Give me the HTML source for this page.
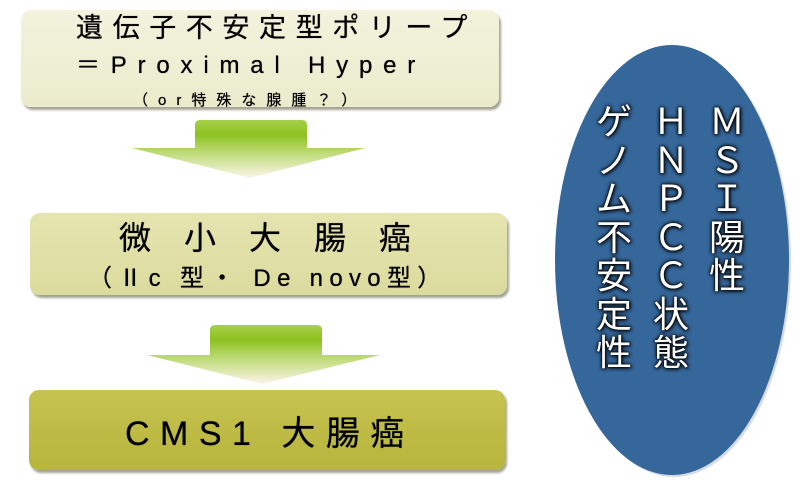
<!DOCTYPE html>
<html><head><meta charset="utf-8"><style>
body{margin:0;width:800px;height:500px;background:#fff;position:relative;overflow:hidden;font-family:"Liberation Sans","Noto Sans CJK JP",sans-serif;}
.box{position:absolute;border-radius:10px;box-shadow:2px 3px 2px rgba(90,90,60,.55);}
.t{position:absolute;white-space:nowrap;color:#000;line-height:1;text-shadow:0 0 0.6px #000;}
.col{position:absolute;top:103px;width:44px;text-align:center;color:#fff;font-size:36px;line-height:38.5px;font-weight:normal;text-shadow:0 0 2px #000,0 0 4px #000,1px 1px 4px #000;font-family:"Liberation Sans","Noto Sans CJK JP",sans-serif;}
</style></head><body>
<div class="box" style="left:21px;top:10px;width:478px;height:97px;background:linear-gradient(#f3f3de,#ebebcc);"></div>
<div class="box" style="left:30px;top:213px;width:477px;height:82px;background:linear-gradient(#e5e4b0,#dcdb9e);"></div>
<div class="box" style="left:29px;top:390px;width:476px;height:80px;background:linear-gradient(#c6c350,#b7b53c);"></div>

<svg style="position:absolute;left:0;top:0" width="800" height="500">
<defs>
<linearGradient id="g" x1="0" y1="0" x2="0" y2="1">
<stop offset="0" stop-color="#a6d14a"/><stop offset="0.25" stop-color="#8dc21f"/><stop offset="0.6" stop-color="#c3dd80"/><stop offset="1" stop-color="#fcf4e8"/></linearGradient>
</defs>
<path d="M200,120 H302 Q307,120 307,125 V148 H365 L250,178 L132,148 H195 V125 Q195,120 200,120Z" fill="url(#g)"/>
<path d="M215,325 H317 Q322,325 322,330 V355 H380 L262,384 L147,355 H210 V330 Q210,325 215,325Z" fill="url(#g)"/>
<ellipse cx="672" cy="260" rx="117" ry="215" fill="#2b4f7e" opacity="0.2" transform="translate(2,2)"/>
<ellipse cx="672" cy="260" rx="117" ry="215" fill="#36679b"/>
</svg>

<div class="t" style="left:76px;top:15px;font-size:27px;letter-spacing:9.6px;">遺伝子不安定型ポリープ</div>
<div class="t" style="left:76px;top:54px;font-size:24px;letter-spacing:10.8px;">＝Proximal Hyper</div>
<div class="t" style="left:133px;top:93px;font-size:15px;letter-spacing:10px;">（or特殊な腺腫？）</div>

<div class="t" style="left:119px;top:222px;font-size:32px;letter-spacing:33px;">微小大腸癌</div>
<div class="t" style="left:88px;top:267px;font-size:24px;letter-spacing:6.3px;">（Ⅱc 型・ De novo型）</div>

<div class="t" style="left:125px;top:417px;font-size:34px;letter-spacing:10.5px;">CMS1 大腸癌</div>

<div class="col" style="left:705px;">Ｍ<br>Ｓ<br>Ｉ<br>陽<br>性</div>
<div class="col" style="left:649px;">Ｈ<br>Ｎ<br>Ｐ<br>Ｃ<br>Ｃ<br>状<br>態</div>
<div class="col" style="left:592px;">ゲ<br>ノ<br>ム<br>不<br>安<br>定<br>性</div>
</body></html>
